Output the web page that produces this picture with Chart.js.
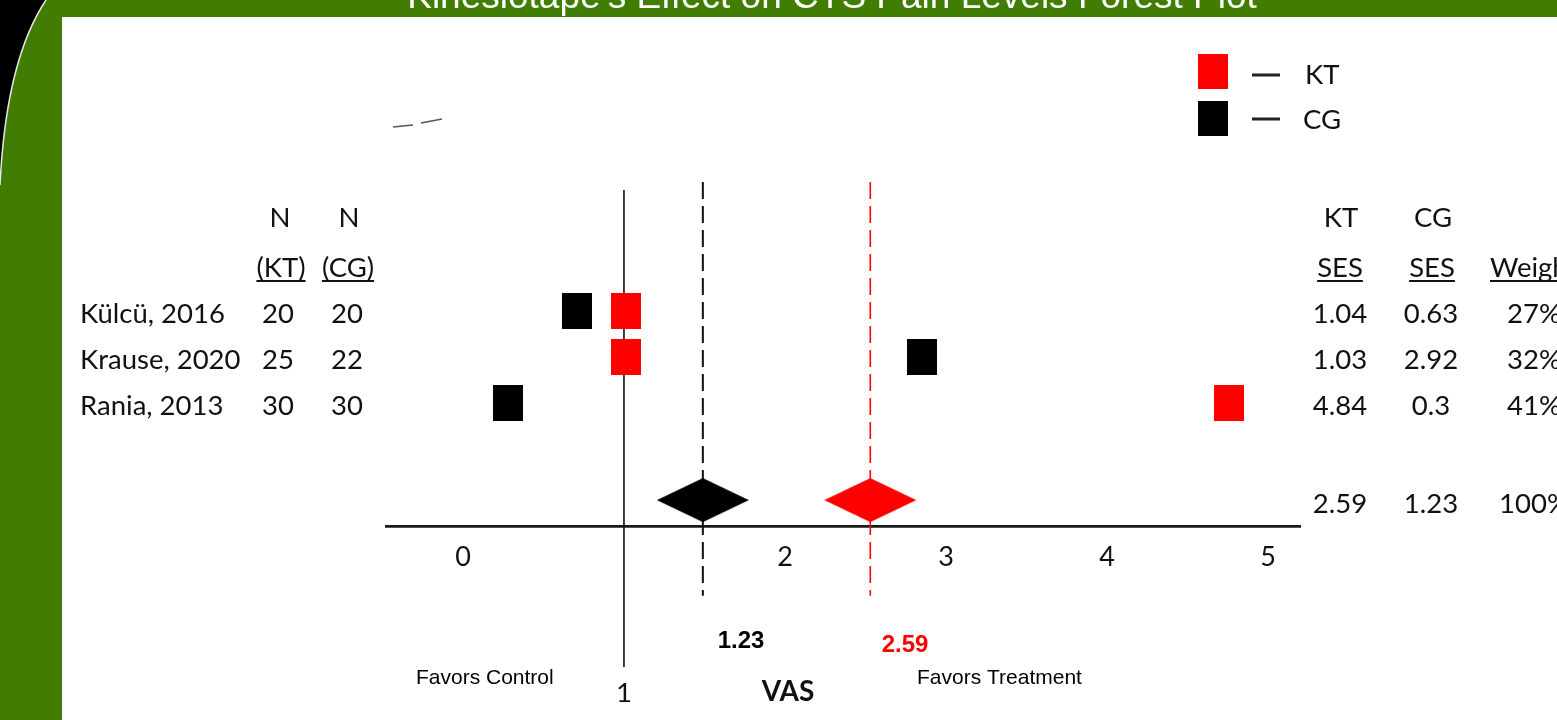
<!DOCTYPE html>
<html><head><meta charset="utf-8">
<script src="https://cdn.jsdelivr.net/npm/chart.js@4.4.0/dist/chart.umd.min.js"></script>
<style>html,body{margin:0;padding:0;background:#417d03;overflow:hidden}canvas{display:block}</style>
</head><body>
<canvas id="c" width="1557" height="720"></canvas>
<script>
// ---- data ----
const chartTitle = "Kinesiotape's Effect on CTS Pain Levels Forest Plot";
const studies = ['Külcü, 2016', 'Krause, 2020', 'Rania, 2013'];
const nKT = ['20', '25', '30'];
const nCG = ['20', '22', '30'];
const sesKT = ['1.04', '1.03', '4.84'];
const sesCG = ['0.63', '2.92', '0.3'];
const weights = ['27%', '32%', '41%'];
const pooledText = ['2.59', '1.23', '100%'];
// mark positions
const ktPlotted = [1.01, 1.01, 4.76];
const cgPlotted = [0.71, 2.85, 0.28];
const pooledKT = 2.53;
const pooledCG = 1.49;
const xTicks = [0, 1, 2, 3, 4, 5];
const seriesNames = ['KT', 'CG'];

// ---- styling ----
const RED = '#ff0000', BLACK = '#000000', INK = '#111111';
const TFONT = 'Lato, "Open Sans", sans-serif';
const AFONT = '"Liberation Sans", Arial, sans-serif';
const POOLED_ROW = 4.1;

function boxImg(w, h, color) {
  const c = document.createElement('canvas'); c.width = w; c.height = h;
  const g = c.getContext('2d'); g.fillStyle = color; g.fillRect(0, 0, w, h); return c;
}
function diamondImg(w, h, color) {
  const c = document.createElement('canvas'); c.width = w; c.height = h;
  const g = c.getContext('2d'); g.fillStyle = color; g.beginPath();
  g.moveTo(w / 2, 0); g.lineTo(w, h / 2); g.lineTo(w / 2, h); g.lineTo(0, h / 2); g.closePath(); g.fill(); return c;
}

const bgPlugin = {
  id: 'bg',
  beforeDraw(chart) {
    const ctx = chart.ctx;
    ctx.save();
    ctx.fillStyle = '#417d03'; ctx.fillRect(0, 0, 1557, 720);
    ctx.fillStyle = '#000';
    ctx.beginPath(); ctx.moveTo(0, 0); ctx.lineTo(46, 0); ctx.quadraticCurveTo(6, 60, 0, 185); ctx.closePath(); ctx.fill();
    ctx.strokeStyle = '#e8e8e8'; ctx.lineWidth = 1.5;
    ctx.beginPath(); ctx.moveTo(46, 0); ctx.quadraticCurveTo(6, 60, 0, 185); ctx.stroke();
    ctx.fillStyle = '#ffffff'; ctx.fillRect(62, 17, 1557 - 62, 720 - 17);
    // title (cut off by the top edge)
    ctx.fillStyle = '#ffffff'; ctx.font = '37px ' + AFONT; ctx.textAlign = 'center'; ctx.textBaseline = 'alphabetic';
    ctx.fillText(chartTitle, 832, 8);
    // small stray stroke
    ctx.strokeStyle = '#555'; ctx.lineWidth = 1.6;
    ctx.beginPath(); ctx.moveTo(393, 127); ctx.lineTo(413, 125); ctx.moveTo(421, 123); ctx.lineTo(442, 119); ctx.stroke();
    ctx.restore();
  }
};

function txt(ctx, s, x, y, font, color, align) {
  ctx.font = font; ctx.fillStyle = color; ctx.textAlign = align || 'center'; ctx.textBaseline = 'middle';
  ctx.fillText(s, x, y);
}
function underlined(ctx, s, x, y, font, align) {
  txt(ctx, s, x, y, font, INK, align);
  const w = ctx.measureText(s).width;
  const x0 = align === 'left' ? x : x - w / 2;
  ctx.fillStyle = INK; ctx.fillRect(x0, y + 12, w, 2);
}

const textPlugin = {
  id: 'texts',
  afterDraw(chart) {
    const ctx = chart.ctx, xs = chart.scales.x, ys = chart.scales.y;
    const f = '27.5px ' + TFONT;
    ctx.save();
    // left table
    txt(ctx, 'N', 280, 218, f, INK); txt(ctx, 'N', 349, 218, f, INK);
    underlined(ctx, '(KT)', 281, 268, f); underlined(ctx, '(CG)', 348, 268, f);
    studies.forEach((s, i) => {
      const y = ys.getPixelForValue(i) + 3;
      txt(ctx, s, 80, y, f, INK, 'left');
      txt(ctx, nKT[i], 278, y, f, INK);
      txt(ctx, nCG[i], 347, y, f, INK);
      txt(ctx, sesKT[i], 1340, y, f, INK);
      txt(ctx, sesCG[i], 1431, y, f, INK);
      txt(ctx, weights[i], 1534, y, f, INK);
    });
    // right table header
    txt(ctx, 'KT', 1341, 218, f, INK); txt(ctx, 'CG', 1433, 218, f, INK);
    underlined(ctx, 'SES', 1340, 268, f); underlined(ctx, 'SES', 1432, 268, f);
    underlined(ctx, 'Weight', 1490, 268, f, 'left');
    const yp = ys.getPixelForValue(POOLED_ROW) + 4;
    txt(ctx, pooledText[0], 1340, yp, f, INK);
    txt(ctx, pooledText[1], 1431, yp, f, INK);
    txt(ctx, pooledText[2], 1534, yp, f, INK);
    // legend
    const cols = [RED, BLACK];
    seriesNames.forEach((n, i) => {
      const cy = i === 0 ? 71 : 118;
      ctx.fillStyle = cols[i]; ctx.fillRect(1198, cy - 17, 30, 35);
      ctx.fillStyle = '#222'; ctx.fillRect(1252, (i === 0 ? 75 : 119) - 1.5, 28, 3);
      txt(ctx, n, i === 0 ? 1305 : 1303, i === 0 ? 75 : 120, f, INK, 'left');
    });
    // bottom annotations
    txt(ctx, pooledText[1], 741, 641, 'bold 24px ' + AFONT, BLACK);
    txt(ctx, pooledText[0], 905, 645, 'bold 24px ' + AFONT, RED);
    txt(ctx, 'Favors Control', 416, 678, '21px ' + AFONT, BLACK, 'left');
    txt(ctx, 'Favors Treatment', 917, 678, '21px ' + AFONT, BLACK, 'left');
    txt(ctx, '1', xs.getPixelForValue(1), 693, f, INK);
    txt(ctx, 'VAS', 788, 692, 'bold 28px ' + TFONT, INK);
    ctx.restore();
  }
};

const refLine = (x, y0, y1, color, dash, width) => ({
  type: 'line', showLine: true, data: [{ x: x, y: y0 }, { x: x, y: y1 }],
  borderColor: color, borderWidth: width, borderDash: dash, pointRadius: 0, clip: false, order: 5
});

new Chart(document.getElementById('c'), {
  type: 'scatter',
  data: {
    datasets: [
      { label: 'KT', data: ktPlotted.map((v, i) => ({ x: v, y: i })), pointStyle: boxImg(30, 36, RED), pointRadius: 10, order: 1 },
      { label: 'CG', data: cgPlotted.map((v, i) => ({ x: v, y: i })), pointStyle: boxImg(30, 36, BLACK), pointRadius: 10, order: 1 },
      { label: 'KT pooled', data: [{ x: pooledKT, y: POOLED_ROW }], pointStyle: diamondImg(92, 44, RED), pointRadius: 10, order: 1 },
      { label: 'CG pooled', data: [{ x: pooledCG, y: POOLED_ROW }], pointStyle: diamondImg(92, 44, BLACK), pointRadius: 10, order: 1 },
      refLine(1, -2.64, 7.73, '#111', [], 1.6),
      refLine(pooledCG, -2.815, 6.18, '#111', [17, 7], 2),
      refLine(pooledKT, -2.815, 6.18, RED, [17, 7], 1.6)
    ]
  },
  options: {
    responsive: false, animation: false, devicePixelRatio: 1, events: [],
    layout: { padding: { left: 386, right: 257, top: 182, bottom: 153.5 } },
    plugins: { legend: { display: false }, tooltip: { enabled: false }, title: { display: false } },
    scales: {
      x: {
        type: 'linear', min: -0.478, max: 5.199,
        grid: { display: false },
        border: { display: true, color: '#1a1a1a', width: 2.7 },
        afterBuildTicks: s => { s.ticks = xTicks.map(v => ({ value: v })); },
        afterFit: s => { s.height = 40; },
        ticks: { font: { family: 'Lato', size: 27 }, color: INK, padding: 7, autoSkip: false, maxRotation: 0,
          callback: v => (v === 1 ? '' : String(v)) }
      },
      y: { type: 'linear', min: -2.815, max: 4.674, reverse: true, display: false }
    }
  },
  plugins: [bgPlugin, textPlugin]
});
</script>
</body></html>
